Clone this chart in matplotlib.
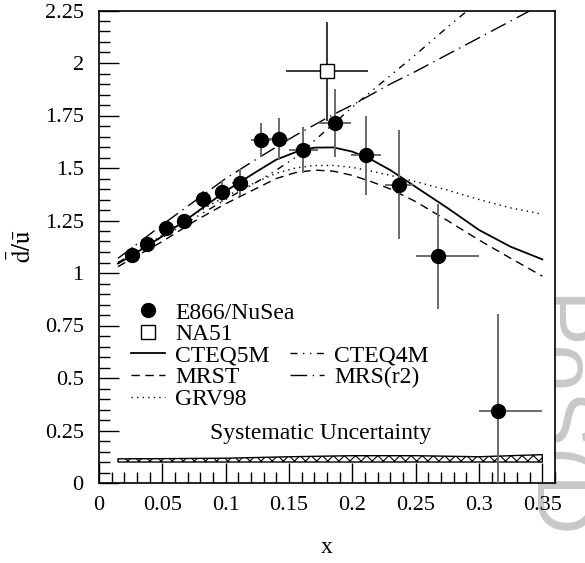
import numpy as np
import matplotlib
matplotlib.use("Agg")
import matplotlib.pyplot as plt
from matplotlib.lines import Line2D
from matplotlib.ticker import MultipleLocator, FormatStrFormatter

plt.rcParams['font.family'] = ['Liberation Serif', 'DejaVu Serif']
plt.rcParams['mathtext.fontset'] = 'stix'
plt.rcParams['hatch.linewidth'] = 0.8

# E866/NuSea points
e866_x = [0.026, 0.038, 0.053, 0.067, 0.082, 0.097, 0.111, 0.128, 0.142, 0.161, 0.186, 0.211, 0.237, 0.268, 0.315]
e866_y = [1.086, 1.138, 1.215, 1.248, 1.352, 1.387, 1.430, 1.633, 1.638, 1.586, 1.714, 1.560, 1.420, 1.080, 0.343]
e866_yerr = [0.04, 0.03, 0.03, 0.03, 0.04, 0.05, 0.065, 0.08, 0.10, 0.11, 0.16, 0.19, 0.26, 0.25, 0.46]
e866_xlo = [0.005, 0.005, 0.005, 0.005, 0.005, 0.005, 0.006, 0.008, 0.008, 0.011, 0.012, 0.012, 0.011, 0.018, 0.015]
e866_xhi = [0.005, 0.005, 0.005, 0.005, 0.005, 0.005, 0.006, 0.008, 0.008, 0.012, 0.013, 0.012, 0.011, 0.032, 0.035]

# NA51 point
na51_x = [0.18]
na51_y = [1.96]
na51_xerr = [0.032]
na51_yerr = [0.235]

# parametrisation curves
x_th = [0.015, 0.025, 0.05, 0.075, 0.1, 0.125, 0.14, 0.155, 0.17, 0.185, 0.2, 0.215, 0.23, 0.25, 0.275, 0.3, 0.325, 0.35]
cteq5m = [1.045, 1.08, 1.175, 1.28, 1.39, 1.485, 1.54, 1.575, 1.597, 1.598, 1.578, 1.54, 1.49, 1.41, 1.31, 1.205, 1.125, 1.065]
mrst = [1.03, 1.065, 1.15, 1.245, 1.33, 1.405, 1.45, 1.478, 1.49, 1.485, 1.465, 1.435, 1.40, 1.34, 1.25, 1.157, 1.07, 0.985]
grv98 = [1.05, 1.085, 1.18, 1.28, 1.365, 1.435, 1.475, 1.50, 1.512, 1.512, 1.503, 1.485, 1.465, 1.435, 1.395, 1.35, 1.31, 1.28]
cteq4m = [1.05, 1.085, 1.17, 1.26, 1.35, 1.435, 1.49, 1.55, 1.63, 1.71, 1.79, 1.865, 1.94, 2.04, 2.17, 2.295, 2.42, 2.545]
mrsr2 = [1.07, 1.115, 1.23, 1.34, 1.45, 1.545, 1.60, 1.655, 1.705, 1.755, 1.80, 1.85, 1.90, 1.96, 2.04, 2.12, 2.20, 2.28]

# systematic uncertainty band
band_x = [0.015, 0.05, 0.1, 0.15, 0.2, 0.25, 0.3, 0.35]
band_lo = [0.10, 0.10, 0.10, 0.10, 0.10, 0.10, 0.10, 0.10]
band_hi = [0.115, 0.116, 0.118, 0.125, 0.13, 0.13, 0.125, 0.135]

fig = plt.figure(figsize=(5.85, 5.63), dpi=100)
ax = fig.add_axes([99/585, 1-483/563, 456/585, 472.5/563])

ax.plot(x_th, cteq5m, color='black', lw=1.3, ls='-')
ax.plot(x_th, mrst, color='black', lw=1.0, dashes=(6, 4))
ax.plot(x_th, grv98, color='black', lw=1.0, dashes=(1, 3))
ax.plot(x_th, cteq4m, color='black', lw=1.0, dashes=(5, 4, 1, 4, 1, 4))
ax.plot(x_th, mrsr2, color='black', lw=1.0, dashes=(12, 4, 1, 4))

ax.fill_between(band_x, band_lo, band_hi, facecolor='white', edgecolor='black',
                hatch='xxx', lw=1.0)

ax.errorbar(e866_x, e866_y, yerr=e866_yerr, xerr=[e866_xlo, e866_xhi], fmt='o',
            color='black', ms=10, ecolor='#6a6a6a', elinewidth=1.4, capsize=0, zorder=5)
ax.errorbar(na51_x, na51_y, yerr=na51_yerr, xerr=na51_xerr, fmt='s', mfc='white',
            mec='black', ms=10, ecolor='black', elinewidth=1.1, capsize=0, zorder=4)

ax.text(0.175, 0.238, 'Systematic Uncertainty', fontsize=17, ha='center', va='center')

h1 = [Line2D([], [], ls='none', marker='o', color='black', ms=10),
      Line2D([], [], ls='none', marker='s', mfc='white', mec='black', ms=10),
      Line2D([], [], color='black', lw=1.3),
      Line2D([], [], color='black', lw=1.0, dashes=(6, 4)),
      Line2D([], [], color='black', lw=1.0, dashes=(1, 3))]
l1 = ['E866/NuSea', 'NA51', 'CTEQ5M', 'MRST', 'GRV98']
leg1 = ax.legend(h1, l1, loc='center left', bbox_to_anchor=(0.070, (483-356)/472.5),
                 frameon=False, fontsize=17, handlelength=1.45, handletextpad=0.42,
                 labelspacing=0.0, borderpad=0, borderaxespad=0)
ax.add_artist(leg1)
h2 = [Line2D([], [], color='black', lw=1.0, dashes=(5, 4, 1, 4, 1, 4)),
      Line2D([], [], color='black', lw=1.0, dashes=(12, 4, 1, 4))]
l2 = ['CTEQ4M', 'MRS(r2)']
ax.legend(h2, l2, loc='center left', bbox_to_anchor=(0.419, (483-366.5)/472.5),
          frameon=False, fontsize=17, handlelength=1.45, handletextpad=0.42,
          labelspacing=0.0, borderpad=0, borderaxespad=0)

ax.set_xlim(0, 0.36)
ax.set_ylim(0, 2.25)
ax.xaxis.set_major_locator(MultipleLocator(0.05))
ax.xaxis.set_minor_locator(MultipleLocator(0.01))
ax.yaxis.set_major_locator(MultipleLocator(0.25))
ax.yaxis.set_minor_locator(MultipleLocator(0.05))
ax.xaxis.set_major_formatter(FormatStrFormatter('%g'))
ax.yaxis.set_major_formatter(FormatStrFormatter('%g'))
ax.tick_params(which='both', direction='in', top=False, right=False, width=1.0, labelsize=16)
ax.tick_params(which='major', length=14.5)
ax.tick_params(which='minor', length=7.7)
ax.tick_params(axis='x', which='major', pad=9)
ax.tick_params(axis='y', which='major', pad=11)
for s in ax.spines.values():
    s.set_linewidth(1.2)

ax.set_xlabel('x', fontsize=17, labelpad=16)
ax.set_ylabel(r'$\mathrm{\bar{d}/\bar{u}}$', fontsize=18, labelpad=6)

# watermark, behind the axes
fig.text(530/585, 1-295/563, 'PoS(D', rotation=-90, rotation_mode='anchor',
         ha='left', va='baseline', color='#c8c8c8', fontsize=60,
         family='Liberation Sans', zorder=-1)

fig.savefig('out.png', dpi=100)
